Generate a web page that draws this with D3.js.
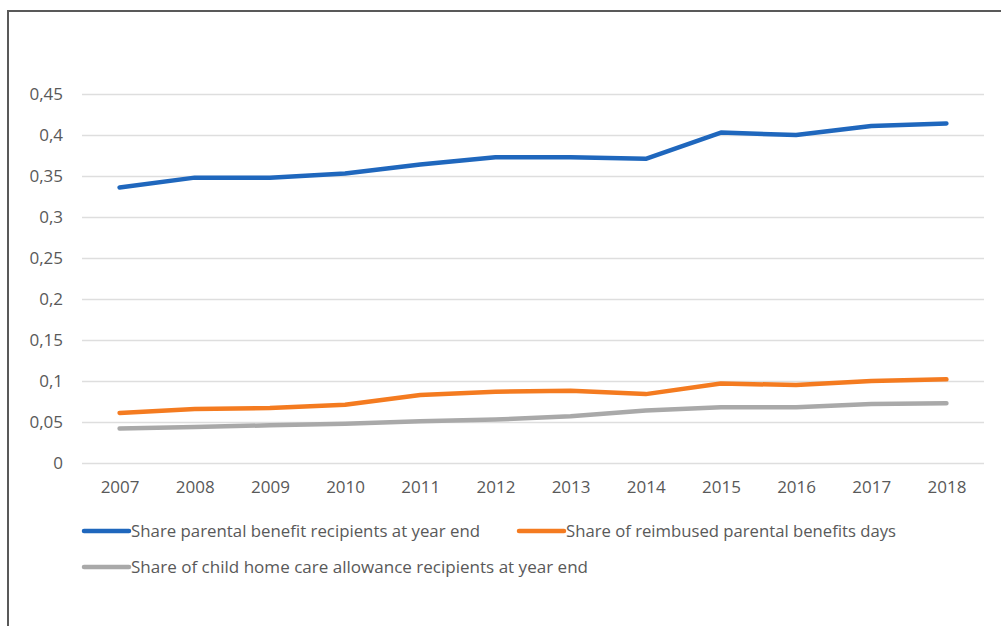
<!DOCTYPE html>
<html>
<head>
<meta charset="utf-8">
<script src="https://cdn.jsdelivr.net/npm/d3@7"></script>
<style>
    body { margin: 0; background: #fff; }
    text { font-family: "Open Sans", "Noto Sans", sans-serif; fill: #595959; }
</style>
</head>
<body>
<div class="chart"></div>
<script>
let svgWidth = 1001;
let svgHeight = 626;

let years = ["2007", "2008", "2009", "2010", "2011", "2012", "2013", "2014", "2015", "2016", "2017", "2018"];
let parentalRecipients = [0.336, 0.348, 0.348, 0.353, 0.364, 0.373, 0.373, 0.371, 0.403, 0.400, 0.411, 0.414];
let reimbursedDays = [0.061, 0.066, 0.067, 0.071, 0.083, 0.087, 0.088, 0.084, 0.097, 0.095, 0.100, 0.102];
let homeCareRecipients = [0.042, 0.044, 0.046, 0.048, 0.051, 0.053, 0.057, 0.064, 0.068, 0.068, 0.072, 0.073];
let yTicks = [0, 0.05, 0.1, 0.15, 0.2, 0.25, 0.3, 0.35, 0.4, 0.45];
let seriesNames = [
    "Share parental benefit recipients at year end",
    "Share of reimbused parental benefits days",
    "Share of child home care allowance recipients at year end"
];
let seriesColors = ["#1f67bd", "#f47b20", "#a9a9a9"];

let margin = { top: 94, right: 17, bottom: 163, left: 82 };
let width = svgWidth - margin.left - margin.right;
let height = svgHeight - margin.top - margin.bottom;

let svg = d3.select(".chart")
    .append("svg")
    .attr("width", svgWidth)
    .attr("height", svgHeight);

// outer frame (only top and left edges are visible in the picture)
svg.append("path")
    .attr("d", "M8,626 V11 H1001")
    .attr("fill", "none")
    .attr("stroke", "#595959")
    .attr("stroke-width", 2);

let chartGroup = svg.append("g")
    .attr("transform", `translate(${margin.left}, ${margin.top})`);

let xScale = d3.scalePoint()
    .domain(years)
    .range([0, width])
    .padding(0.5);

let yScale = d3.scaleLinear()
    .domain([0, 0.45])
    .range([height, 0]);

// gridlines + y labels
let leftAxis = d3.axisLeft(yScale)
    .tickValues(yTicks)
    .tickSize(-width)
    .tickPadding(19)
    .tickFormat(d => d3.format("~g")(d).replace(".", ","));

let yAxis = chartGroup.append("g").call(leftAxis);
yAxis.select(".domain").remove();
yAxis.selectAll(".tick line")
    .attr("stroke", "#dedede")
    .attr("stroke-width", 1.5);
yAxis.selectAll(".tick text")
    .style("font-size", "17px")
    .attr("fill", "#595959");

let bottomAxis = d3.axisBottom(xScale)
    .tickSize(0)
    .tickPadding(18);

let xAxis = chartGroup.append("g")
    .attr("transform", `translate(0, ${height})`)
    .call(bottomAxis);
xAxis.select(".domain").remove();
xAxis.selectAll(".tick text")
    .style("font-size", "17px")
    .attr("fill", "#595959");

let allSeries = [parentalRecipients, reimbursedDays, homeCareRecipients];

let line = d3.line()
    .x((d, i) => xScale(years[i]))
    .y(d => yScale(d));

chartGroup.selectAll(".series")
    .data(allSeries)
    .enter()
    .append("path")
    .attr("class", "series")
    .attr("d", d => line(d))
    .attr("fill", "none")
    .attr("stroke", (d, i) => seriesColors[i])
    .attr("stroke-width", 4.5)
    .attr("stroke-linecap", "round")
    .attr("stroke-linejoin", "round");

// legend
let legendPos = [
    { x: 83, y: 531, len: 349 },
    { x: 518, y: 531, len: 330 },
    { x: 83, y: 567, len: 457 }
];

let legend = svg.selectAll(".legend")
    .data(seriesNames)
    .enter()
    .append("g")
    .attr("class", "legend")
    .attr("transform", (d, i) => `translate(${legendPos[i].x}, ${legendPos[i].y})`);

legend.append("line")
    .attr("x1", 1)
    .attr("x2", 46)
    .attr("stroke", (d, i) => seriesColors[i])
    .attr("stroke-width", 4.5)
    .attr("stroke-linecap", "round");

legend.append("text")
    .attr("x", 48)
    .attr("dy", "0.35em")
    .style("font-size", "17px")
    .attr("textLength", (d, i) => legendPos[i].len)
    .attr("lengthAdjust", "spacingAndGlyphs")
    .text(d => d);
</script>
</body>
</html>
